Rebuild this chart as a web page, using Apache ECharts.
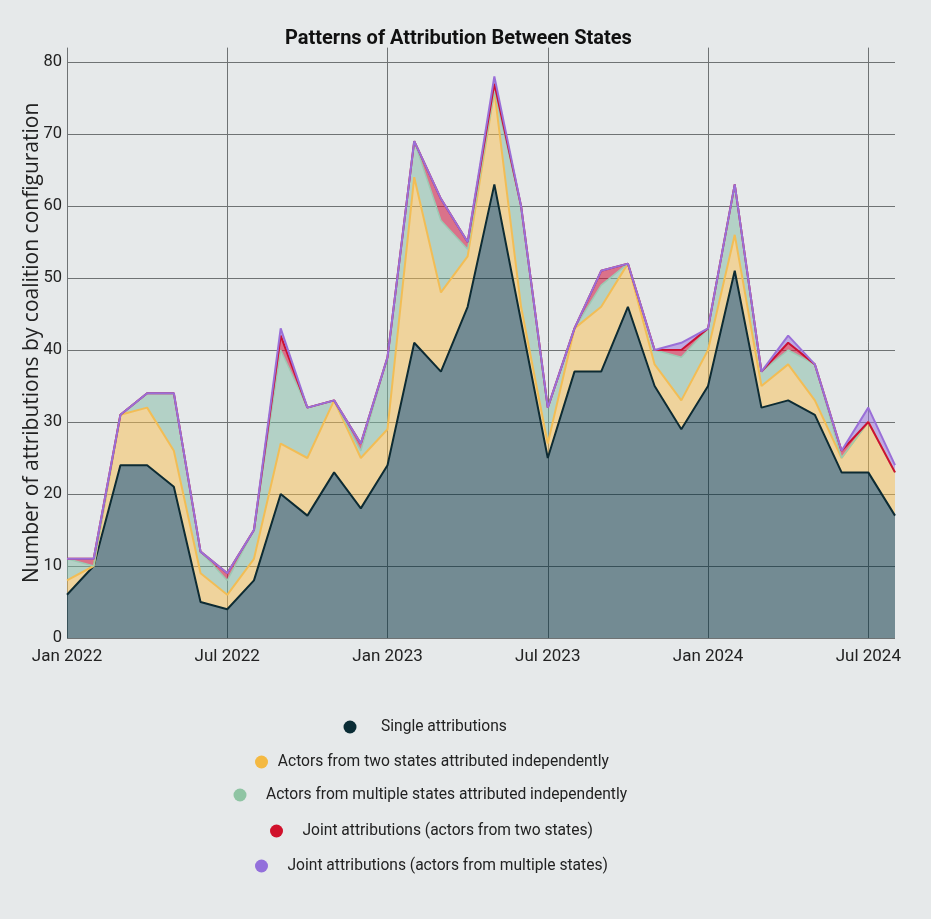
<!DOCTYPE html>
<html><head><meta charset="utf-8">
<script src="https://cdn.jsdelivr.net/npm/echarts@6/dist/echarts.min.js"></script>
<style>html,body{margin:0;padding:0;background:#e6e9ea;}#chart{width:931px;height:919px;}</style>
</head><body><div id="chart"></div>
<script>
const months = ['Jan 2022','Feb 2022','Mar 2022','Apr 2022','May 2022','Jun 2022','Jul 2022','Aug 2022','Sep 2022','Oct 2022','Nov 2022','Dec 2022',
  'Jan 2023','Feb 2023','Mar 2023','Apr 2023','May 2023','Jun 2023','Jul 2023','Aug 2023','Sep 2023','Oct 2023','Nov 2023','Dec 2023',
  'Jan 2024','Feb 2024','Mar 2024','Apr 2024','May 2024','Jun 2024','Jul 2024','Aug 2024'];
const single     = [6,10,24,24,21,5,4,8,20,17,23,18,24,41,37,46,63,44,25,37,37,46,35,29,35,51,32,33,31,23,23,17];
const twoIndep   = [2,0,7,8,5,4,2,3,7,8,10,7,5,23,11,7,13,2,2,6,9,6,3,4,5,5,3,5,2,2,7,6];
const multiIndep = [3,0,0,2,8,3,2,4,13,7,0,1,10,5,10,1,0,14,5,0,3,0,2,6,3,7,2,2,5,0,0,0];
const jointTwo   = [0,1,0,0,0,0,1,0,2,0,0,1,0,0,3,1,1,0,0,0,2,0,0,1,0,0,0,1,0,1,0,0];
const jointMulti = [0,0,0,0,0,0,0,0,1,0,0,0,0,0,0,0,1,0,0,0,0,0,0,1,0,0,0,1,0,0,2,1];
const yTicks = [0,10,20,30,40,50,60,70,80];

const names = ['Single attributions','Actors from two states attributed independently','Actors from multiple states attributed independently','Joint attributions (actors from two states)','Joint attributions (actors from multiple states)'];
const dotColors = ['#0a2c35','#f4b942','#8fc4a3','#d0112b','#9370db'];
const lineColors = ['#0d2b33','#f2bd55','#9cc9b3','#cc1033','#9a6fd8'];
const fillColors = ['rgba(0,45,60,0.5)','rgba(248,189,78,0.5)','rgba(128,185,162,0.5)','rgba(208,16,58,0.55)','rgba(150,110,220,0.5)'];
const lineWidths = [2,2,1.5,2,2];
const datas = [single,twoIndep,multiIndep,jointTwo,jointMulti];

const legendPos = [[338.5,714,19.5],[250,749,4.8],[228.5,782,14.5],[265,818,14.5],[250,853,14.5]];

const chart = echarts.init(document.getElementById('chart'));
chart.setOption({
  backgroundColor:'#e6e9ea',
  animation:false,
  title:{text:'Patterns of Attribution Between States',left:280,top:24,
    textStyle:{fontFamily:'Roboto',fontWeight:'bold',fontSize:20,color:'#111'}},
  legend: names.map((n,i)=>({
    data:[n], left:legendPos[i][0], top:legendPos[i][1], icon:'circle', itemWidth:13, itemHeight:13,
    selectedMode:false,
    textStyle:{fontFamily:'Roboto',fontSize:15.6,color:'#222',padding:[0,0,0,legendPos[i][2]]}
  })),
  grid:{left:67,right:36,top:47.6,bottom:281,containLabel:false},
  xAxis:{type:'category',data:months,boundaryGap:false,
    axisLine:{show:false},axisTick:{show:false},
    axisLabel:{interval:5,fontFamily:'Roboto',fontSize:17,color:'#222',margin:10},
    splitLine:{show:true,interval:5,lineStyle:{color:'#6f7374',width:1}}},
  yAxis:{type:'value',min:0,max:82,interval:10,
    name:'Number of attributions by coalition configuration',nameLocation:'middle',nameGap:24,
    nameMoveOverlap:false,
    nameTextStyle:{fontFamily:'Open Sans',fontSize:21,color:'#222'},
    axisLine:{show:false},axisTick:{show:false},
    axisLabel:{showMaxLabel:false,fontFamily:'Roboto',fontSize:16.5,color:'#222',margin:5,
      formatter:(v)=> yTicks.indexOf(v)>=0 ? String(v) : ''},
    splitLine:{show:true,showMaxLine:false,lineStyle:{color:'#6f7374',width:1}}},
  series: names.map((n,i)=>({
    name:n,type:'line',stack:'total',data:datas[i],showSymbol:false,symbol:'none',
    itemStyle:{color:dotColors[i]},
    lineStyle:{color:lineColors[i],width:lineWidths[i]},
    areaStyle:{color:fillColors[i],opacity:1},
    emphasis:{disabled:true}
  }))
});
</script></body></html>
